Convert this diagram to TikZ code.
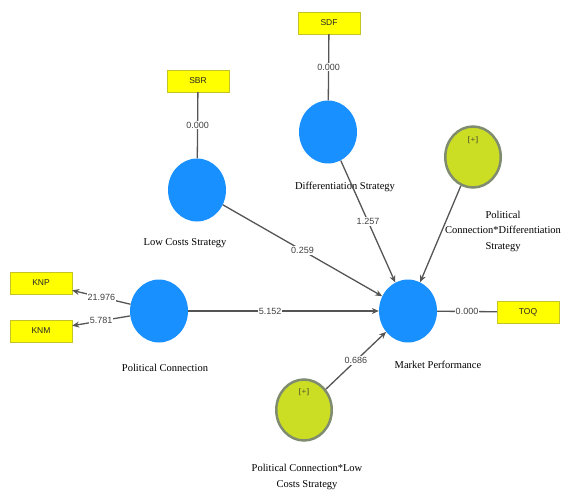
\documentclass[tikz,border=0pt]{standalone}
\usepackage{fontspec}
\setmainfont{Liberation Serif}
\newfontfamily\numfont{Liberation Sans}
\usepackage{xcolor}
\usetikzlibrary{shapes.geometric,arrows.meta}
\definecolor{lvblue}{RGB}{24,144,255}
\definecolor{lvgreen}{RGB}{204,222,36}
\definecolor{lvrim}{RGB}{128,140,112}
\definecolor{indyellow}{RGB}{255,255,0}
\definecolor{indrim}{RGB}{196,196,40}
\definecolor{pathgray}{RGB}{85,85,85}

\begin{document}
\begin{tikzpicture}
[x=1pt, y=-1pt,
lv-a/.style={ellipse, fill=lvblue, minimum width=58pt, minimum height=63pt, inner sep=0pt},
lv-b/.style={ellipse, draw=lvrim, line width=2.5pt, fill=lvgreen, minimum width=55.5pt, minimum height=61pt, inner sep=0pt},
ind-a/.style={rectangle, draw=indrim, fill=indyellow, minimum width=62pt, minimum height=22pt, inner sep=0pt, font=\numfont\fontsize{8.5}{10}\selectfont, text=black!85},
text-a/.style={align=center, font=\fontsize{10.5}{15.5}\selectfont},
plus-a/.style={inner sep=0pt, font=\fontsize{8.5}{9}\selectfont, text=black!80},
coef-a/.style={fill=white, inner sep=1pt, font=\numfont\fontsize{9}{10}\selectfont, text=black!75},
path-a/.style={draw=pathgray, line width=1.3pt},
path-b/.style={path-a, -{Stealth[length=7pt,width=6pt]}},]
\useasboundingbox (0,0) rectangle (561,489);
% indicators
\node (sdf) [ind-a] at (329,23)  {SDF};
\node (sbr) [ind-a] at (198,81)  {SBR};
\node (knp) [ind-a] at (41,283)  {KNP};
\node (knm) [ind-a] at (41,331)  {KNM};
\node (toq) [ind-a] at (528,312) {TOQ};
% latent variables
\node (ds)  [lv-a] at (328,132) {};
\node (lcs) [lv-a] at (197,190) {};
\node (pc)  [lv-a] at (159,311) {};
\node (mp)  [lv-a] at (408,311) {};
\node (pcds)  [lv-b] at (473,157) {};
\node (pcds-plus)  [plus-a] at (473,140) {[+]};
\node (pclcs) [lv-b] at (304,410) {};
\node (pclcs-plus) [plus-a] at (304,392) {[+]};
% names
\node (ds-lbl)  [text-a] at (345,187) {Differentiation Strategy};
\node (lcs-lbl) [text-a] at (185,243) {Low Costs Strategy};
\node (pc-lbl)  [text-a] at (165,368) {Political Connection};
\node (mp-lbl)  [text-a] at (438,365) {Market Performance};
\node (pcds-lbl)  [text-a] at (503,231) {Political\\Connection*Differentiation\\Strategy};
\node (pclcs-lbl) [text-a] at (307,477) {Political Connection*Low\\Costs Strategy};
% paths
\draw [path-a] (sdf) -- node [coef-a] {0.000} (ds);
\draw [path-a] (sbr) -- node [coef-a] {0.000} (lcs);
\draw [path-b] (lcs) -- node [coef-a] {0.259} (mp);
\draw [path-b] (ds) -- node [coef-a] {1.257} (mp);
\draw [path-b] (pc) -- node [coef-a, pos=0.43] {5.152} (mp);
\draw [path-b] (pcds) -- (mp);
\draw [path-b] (pclcs) -- node [coef-a] {0.686} (mp);
\draw [path-a] (mp) -- node [coef-a] {0.000} (toq);
\draw [path-b] (pc) -- node [coef-a] {21.976} (knp);
\draw [path-b] (pc) -- node [coef-a] {5.781} (knm);
\end{tikzpicture}
\end{document}
